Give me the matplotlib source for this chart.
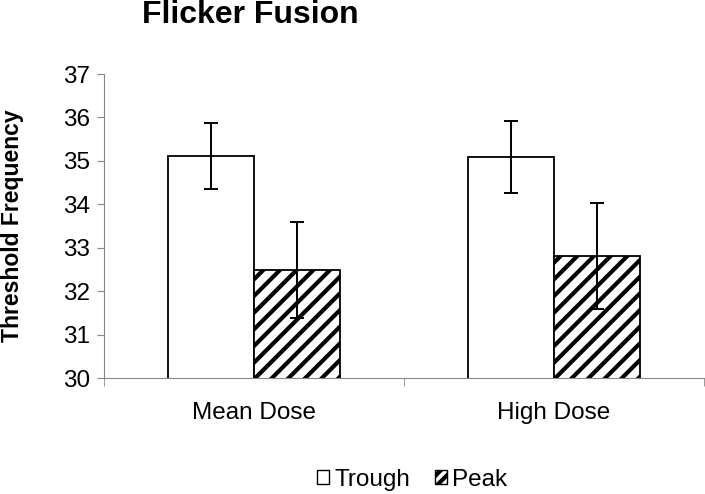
import numpy as np
import matplotlib
matplotlib.use('Agg')
import matplotlib.pyplot as plt
from matplotlib.patches import Patch

# Datos
categories = ['Mean Dose', 'High Dose']
trough = [35.12, 35.09]
trough_err = [0.76, 0.82]
peak = [32.49, 32.80]
peak_err = [1.11, 1.22]

plt.rcParams['font.family'] = ['Liberation Sans', 'DejaVu Sans']
plt.rcParams['hatch.linewidth'] = 3.0

fig = plt.figure(figsize=(7.05, 4.94), dpi=100)
ax = fig.add_axes([104 / 705, 1 - 378 / 494, 600 / 705, 304 / 494])

x = np.arange(len(categories))
w = 0.287
ax.bar(x - w / 2, trough, w, color='white', edgecolor='black', linewidth=1.3)
ax.bar(x + w / 2, peak, w, color='white', edgecolor='black', linewidth=1.3, hatch='//')
ax.errorbar(x - w / 2, trough, yerr=trough_err, fmt='none', ecolor='black', elinewidth=1.4, capsize=5, capthick=1.4)
ax.errorbar(x + w / 2, peak, yerr=peak_err, fmt='none', ecolor='black', elinewidth=1.4, capsize=5, capthick=1.4)

ax.set_ylim(30, 37)
ax.set_xlim(-0.5, 1.5)
ax.set_yticks(range(30, 38))
ax.tick_params(axis='y', labelsize=17.5, length=5, color='#888888', pad=5)
ax.set_xticks(x)
ax.set_xticklabels(categories, fontsize=17.5)
ax.tick_params(axis='x', length=0, pad=17)
ax.set_xticks([-0.5, 0.5, 1.5], minor=True)
ax.tick_params(axis='x', which='minor', length=6, color='#888888')

for s in ['top', 'right']:
    ax.spines[s].set_visible(False)
ax.spines['left'].set_color('#888888')
ax.spines['bottom'].set_color('#888888')

ax.set_ylabel('Threshold Frequency', fontsize=16.5, fontweight='bold')
ax.yaxis.set_label_coords(-0.133, 0.5)

fig.text(250 / 705, 1 - 15 / 494, 'Flicker Fusion', ha='center', va='center',
         fontsize=23, fontweight='bold')

handles = [Patch(facecolor='white', edgecolor='black', linewidth=1.0),
           Patch(facecolor='white', edgecolor='black', linewidth=1.0, hatch='///')]
fig.legend(handles, ['Trough', 'Peak'], loc='center', bbox_to_anchor=(412 / 705, 1 - 480 / 494),
           ncol=2, frameon=False, fontsize=17.5, handlelength=0.5, handleheight=0.5,
           handletextpad=0.2, columnspacing=1.0)

plt.savefig('out.png', dpi=100)
